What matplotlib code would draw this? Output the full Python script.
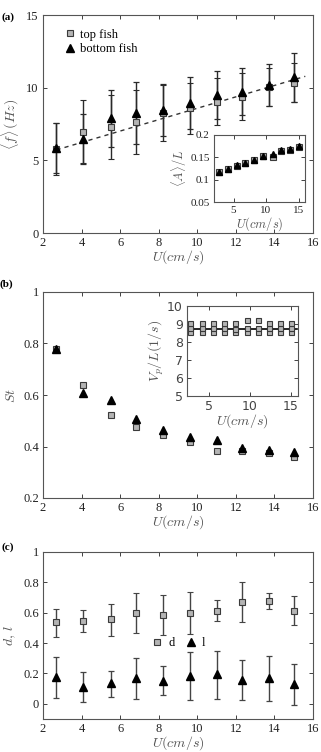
import numpy as np
import matplotlib.pyplot as plt
from matplotlib.lines import Line2D

plt.rcParams['font.family'] = ['Liberation Serif', 'DejaVu Serif']
plt.rcParams['mathtext.fontset'] = 'cm'

# flow speed U (cm/s)
U = [2.7, 4.1, 5.5, 6.8, 8.2, 9.6, 11.0, 12.3, 13.7, 15.0]

# (a) tail-beat frequency <f> (Hz)
f_top = [5.8, 6.97, 7.27, 7.66, 8.24, 8.58, 9.04, 9.38, 10.07, 10.35]
f_top_err = [1.8, 2.17, 2.2, 2.2, 1.93, 1.75, 1.62, 1.6, 1.3, 1.32]
f_bot = [5.85, 6.5, 7.9, 8.24, 8.46, 8.93, 9.5, 9.73, 10.19, 10.72]
f_bot_err = [1.75, 1.72, 1.95, 2.12, 1.82, 1.78, 1.65, 1.6, 1.43, 1.68]
fit_x = [2.7, 15.6]
fit_y = [5.72, 10.78]

# (a) inset: amplitude <A>/L
A_top = [0.118, 0.124, 0.131, 0.137, 0.145, 0.152, 0.150, 0.165, 0.167, 0.173]
A_bot = [0.117, 0.124, 0.133, 0.138, 0.145, 0.152, 0.158, 0.166, 0.168, 0.175]

# (b) Strouhal number
St_top = [0.78, 0.64, 0.524, 0.475, 0.443, 0.418, 0.381, 0.383, 0.376, 0.361]
St_bot = [0.78, 0.609, 0.58, 0.506, 0.463, 0.436, 0.426, 0.395, 0.386, 0.378]

# (b) inset: Vp/L (1/s)
Vp_hi = [9.05, 9.05, 9.05, 9.05, 9.05, 9.25, 9.25, 9.05, 9.05, 9.05]
Vp_mid = [8.8, 8.8, 8.8, 8.8, 8.75, 8.8, 8.8, 8.8, 8.8, 8.8]
Vp_lo = [8.55, 8.55, 8.55, 8.55, 8.55, 8.55, 8.55, 8.55, 8.55, 8.55]
Vp_mean_x = [2.4, 15.8]
Vp_mean = [8.7, 8.7]

# (c) d and l
d = [0.536, 0.547, 0.56, 0.596, 0.582, 0.596, 0.613, 0.67, 0.677, 0.613]
d_lo = [0.44, 0.472, 0.45, 0.464, 0.453, 0.457, 0.545, 0.54, 0.624, 0.516]
d_hi = [0.624, 0.615, 0.657, 0.73, 0.716, 0.734, 0.686, 0.80, 0.73, 0.708]
l = [0.176, 0.11, 0.134, 0.17, 0.152, 0.185, 0.198, 0.158, 0.167, 0.13]
l_lo = [0.04, 0.013, 0.048, 0.03, 0.057, 0.024, 0.03, 0.026, 0.02, -0.007]
l_hi = [0.31, 0.21, 0.213, 0.30, 0.25, 0.34, 0.35, 0.29, 0.316, 0.26]

sq = dict(marker='s', ms=4.2, mfc='#b4b4b4', mec='#3a3a3a', mew=0.8, ls='none')
tri = dict(marker='^', ms=5.5, mfc='black', mec='black', ls='none')
eb = dict(ecolor='#2a2a2a', elinewidth=1.0, capsize=2.3, capthick=0.9)
lab_col = '#555555'


def style(ax, fs=9):
    ax.tick_params(direction='in', top=True, right=True, length=3,
                   width=0.6, labelsize=fs, colors='#222222', pad=3)
    for s in ax.spines.values():
        s.set_color('#555555')
        s.set_linewidth(0.8)


W, H = 321, 752
fig = plt.figure(figsize=(W / 100, H / 100), dpi=100)


def box(l_, t, r, b):
    return [l_ / W, 1 - b / H, (r - l_) / W, (b - t) / H]


def handles(names):
    return [Line2D([], [], **sq, label=names[0]),
            Line2D([], [], **tri, label=names[1])]


# ---- (a)
ax = fig.add_axes(box(43, 15, 313, 233))
ax.errorbar(U, f_top, yerr=f_top_err, **sq, **eb)
ax.errorbar(U, f_bot, yerr=f_bot_err, **tri, **eb)
ax.plot(fit_x, fit_y, ls=(0, (3, 3)), color='#333333', lw=1.0)
ax.set_xlim(2, 16)
ax.set_ylim(0, 15)
ax.set_xticks(range(2, 17, 2))
ax.set_yticks([0, 5, 10, 15])
ax.set_xlabel(r'$U(cm/s)$', fontsize=10, color=lab_col, labelpad=-1)
ax.set_ylabel(r'$\langle f\rangle\,(Hz)$', fontsize=10, color=lab_col, labelpad=4)
style(ax)
ax.legend(handles=handles(['top fish', 'bottom fish']), loc='upper left',
          bbox_to_anchor=(0.06, 0.96), frameon=False,
          fontsize=9, handletextpad=0.3, labelspacing=0.2, handlelength=1.0,
          borderaxespad=0)
fig.text(2 / W, 1 - 20 / H, '(a)', fontsize=8, fontweight='bold')

ins = fig.add_axes(box(214, 135, 305, 202))
ins.plot(U, A_top, **sq)
ins.plot(U, A_bot, **dict(tri, ms=5))
ins.set_xlim(2, 16)
ins.set_ylim(0.05, 0.2)
ins.set_xticks([5, 10, 15])
ins.set_yticks([0.05, 0.1, 0.15, 0.2])
ins.set_yticklabels(['0.05', '0.1', '0.15', '0.2'])
ins.set_xlabel(r'$U(cm/s)$', fontsize=9, color=lab_col, labelpad=0)
ins.set_ylabel(r'$\langle A\rangle/L$', fontsize=9, color=lab_col, labelpad=1)
style(ins, fs=8)

# ---- (b)
ax = fig.add_axes(box(43, 292, 313, 498))
ax.plot(U, St_top, **sq)
ax.plot(U, St_bot, **tri)
ax.set_xlim(2, 16)
ax.set_ylim(0.2, 1)
ax.set_xticks(range(2, 17, 2))
ax.set_yticks([0.2, 0.4, 0.6, 0.8, 1])
ax.set_yticklabels(['0.2', '0.4', '0.6', '0.8', '1'])
ax.set_xlabel(r'$U(cm/s)$', fontsize=10, color=lab_col, labelpad=-1)
ax.set_ylabel(r'$St$', fontsize=10, color=lab_col, labelpad=4)
style(ax)
fig.text(0 / W, 1 - 287 / H, '(b)', fontsize=8, fontweight='bold')

ins = fig.add_axes(box(187, 306, 298, 396))
ins.plot(Vp_mean_x, Vp_mean, color='black', lw=1.2)
sq_small = dict(sq, ms=3.6)
ins.plot(U, Vp_lo, **sq_small)
ins.plot(U, Vp_mid, **sq_small)
ins.plot(U, Vp_hi, **sq_small)
ins.set_xlim(2.3, 15.9)
ins.set_ylim(5, 10)
ins.set_xticks([5, 10, 15])
ins.set_yticks([5, 6, 7, 8, 9, 10])
ins.set_xlabel(r'$U(cm/s)$', fontsize=10, color=lab_col, labelpad=-1)
ins.set_ylabel(r'$V_p/L(1/s)$', fontsize=10, color=lab_col, labelpad=1)
style(ins, fs=9)
for t in ins.get_xticklabels() + ins.get_yticklabels():
    t.set_family('DejaVu Sans')
    t.set_color('#444444')

# ---- (c)
ax = fig.add_axes(box(43, 552, 313, 719))
d_err = [np.subtract(d, d_lo), np.subtract(d_hi, d)]
l_err = [np.subtract(l, l_lo), np.subtract(l_hi, l)]
ax.errorbar(U, d, yerr=d_err, **sq, **dict(eb, ecolor='#444444'))
ax.errorbar(U, l, yerr=l_err, **tri, **dict(eb, ecolor='#444444'))
ax.set_xlim(2, 16)
ax.set_ylim(-0.1, 1)
ax.set_xticks(range(2, 17, 2))
ax.set_yticks([0, 0.2, 0.4, 0.6, 0.8, 1])
ax.set_yticklabels(['0', '0.2', '0.4', '0.6', '0.8', '1'])
ax.set_xlabel(r'$U(cm/s)$', fontsize=10, color=lab_col, labelpad=-1)
ax.set_ylabel(r'$d,\,l$', fontsize=10, color=lab_col, labelpad=4)
style(ax)
ax.legend(handles=handles(['d', 'l']), loc='center left',
          bbox_to_anchor=(0.38, 0.455), ncol=2,
          frameon=False, fontsize=9, handletextpad=0.4, columnspacing=0.8,
          handlelength=1.0, borderaxespad=0)
fig.text(2 / W, 1 - 550 / H, '(c)', fontsize=8, fontweight='bold')

fig.savefig('out.png', dpi=100)
